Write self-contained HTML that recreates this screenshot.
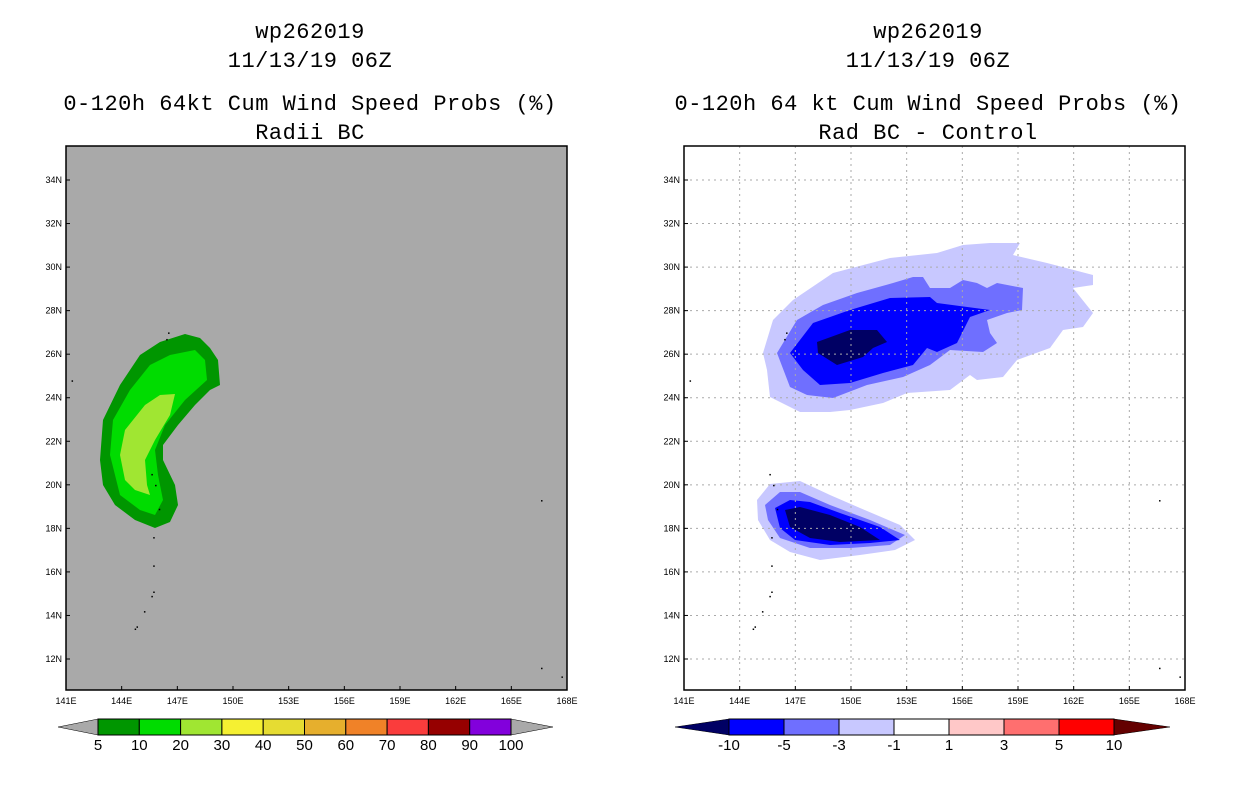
<!DOCTYPE html>
<html><head><meta charset="utf-8"><style>
body{margin:0;background:#fff;}
svg text{font-family:"Liberation Sans",sans-serif;}
svg .ttl{font-family:"Liberation Mono",monospace;}
</style></head><body>
<svg id="s" width="1236" height="800" xmlns="http://www.w3.org/2000/svg">
<g class="ttl" font-size="22" letter-spacing="0.5" text-anchor="middle" fill="#000">
<text class="ttl" x="310" y="38">wp262019</text>
<text class="ttl" x="310" y="67">11/13/19 06Z</text>
<text class="ttl" x="310" y="110">0-120h 64kt Cum Wind Speed Probs (%)</text>
<text class="ttl" x="310" y="139">Radii BC</text>
<text class="ttl" x="928" y="38">wp262019</text>
<text class="ttl" x="928" y="67">11/13/19 06Z</text>
<text class="ttl" x="928" y="110">0-120h 64 kt Cum Wind Speed Probs (%)</text>
<text class="ttl" x="928" y="139">Rad BC - Control</text>
</g>
<g id="L"></g><g id="R"></g><g id="CB"></g>
</svg>
<script>
const latTicks=[34,32,30,28,26,24,22,20,18,16,14,12];
const lonTicks=[141,144,147,150,153,156,159,162,165,168];
const leftLevels=["5","10","20","30","40","50","60","70","80","90","100"];
const leftColors=["#009600","#00dc00","#a0e632","#f5f032","#e6dc32","#e6af2d","#f08228","#fa3c3c","#960000","#8200dc"];
const rightLevels=["-10","-5","-3","-1","1","3","5","10"];
const rightColors=["#0000ff","#6f6fff","#c8c8ff","#ffffff","#ffc8c8","#ff6f6f","#ff0000"];
// contour outlines (frame-relative pixel vertices)
const leftOuter=[[34,314],[37,274],[54,239],[74,209],[94,196],[119,188],[134,192],[144,202],[152,214],[154,239],[144,244],[129,259],[112,279],[97,299],[97,314],[109,339],[112,359],[104,376],[89,382],[69,374],[49,359],[37,339]];
const leftMid=[[44,309],[47,274],[64,244],[84,219],[104,209],[129,204],[139,214],[141,234],[119,254],[99,279],[89,304],[92,329],[97,354],[89,369],[74,364],[54,349]];
const leftIn=[[54,309],[59,284],[79,259],[94,249],[109,248],[104,269],[89,294],[79,314],[81,339],[84,349],[69,344],[59,334]];
const rUpper3=[[79,207],[89,174],[109,154],[149,127],[206,112],[253,107],[279,99],[306,97],[336,97],[329,109],[363,117],[409,129],[409,139],[389,142],[409,167],[399,181],[379,184],[366,202],[333,214],[319,231],[293,234],[286,229],[266,244],[223,247],[199,257],[166,264],[146,266],[116,266],[86,251],[83,224]];
const rUpper2=[[93,207],[113,174],[139,159],[173,147],[209,137],[229,131],[239,131],[246,142],[266,142],[279,134],[293,137],[303,142],[313,137],[339,142],[338,164],[323,167],[303,174],[306,187],[313,197],[299,206],[266,204],[246,219],[219,231],[183,239],[149,252],[123,249],[106,241]];
const rUpper1=[[106,207],[129,177],[166,164],[206,152],[246,151],[253,157],[306,164],[286,171],[273,197],[253,206],[243,202],[229,219],[199,227],[166,237],[136,239],[119,224]];
const rUpper0=[[133,196],[166,184],[193,184],[203,196],[189,202],[179,211],[153,219],[134,207]];
const rLow3=[[73,354],[86,338],[116,335],[146,349],[176,362],[216,379],[231,394],[211,404],[176,409],[136,414],[106,406],[86,394],[74,374]];
const rLow2=[[81,359],[96,346],[116,346],[146,359],[186,374],[221,389],[206,399],[166,402],[126,402],[96,392],[84,374]];
const rLow1=[[91,362],[106,354],[126,356],[156,367],[196,381],[216,394],[186,397],[146,399],[111,394],[96,382]];
const rLow0=[[101,364],[116,361],[146,369],[176,381],[196,394],[156,396],[126,392],[106,381]];
const islands=[[146.5,27.0],[146.4,26.7],[141.3,24.8],[145.6,20.5],[145.8,20.0],[146.0,18.9],[145.7,17.6],[145.7,16.3],[145.7,15.1],[145.6,14.9],[145.2,14.2],[144.7,13.4],[144.8,13.5],[166.6,19.3],[166.6,11.6],[167.7,11.2]];
const NS="http://www.w3.org/2000/svg";
const W=501,H=544,T=146;
const lonMin=141,lonMax=168,latTop=34+34/21.77,latBot=12-31/21.77;
function el(p,t,a){const e=document.createElementNS(NS,t);for(const k in a)e.setAttribute(k,a[k]);p.appendChild(e);return e;}
function xS(x0,lon){return x0+(lon-lonMin)/(lonMax-lonMin)*W;}
function yS(lat){return T+(latTop-lat)/(latTop-latBot)*H;}
function poly(g,x0,pts,fill,name){const p=el(g,'polygon',{points:pts.map(q=>(x0+q[0])+','+(T+q[1])).join(' '),fill:fill});

}
function panel(g,x0,bg,grid,polys){
 const r=el(g,'rect',{x:x0,y:T,width:W,height:H,fill:bg});
 
 
 polys.forEach(p=>poly(g,x0,p[0],p[1],p[2]));
 if(grid){
  latTicks.forEach(l=>{const ln=el(g,'line',{x1:x0,x2:x0+W,y1:yS(l),y2:yS(l),stroke:'#aaa','stroke-dasharray':'2,4'});
  
  });
  lonTicks.slice(1,-1).forEach(l=>{const ln=el(g,'line',{x1:xS(x0,l),x2:xS(x0,l),y1:T,y2:T+H,stroke:'#aaa','stroke-dasharray':'2,4'});
  
  });
 }
 islands.forEach(p=>{const c=el(g,'rect',{x:xS(x0,p[0]),y:yS(p[1]),width:1.5,height:1.5,fill:'#000'});
 
 });
 const f=el(g,'rect',{x:x0,y:T,width:W,height:H,fill:'none',stroke:'#000','stroke-width':1.5});
 
 
 latTicks.forEach(l=>{const t=el(g,'text',{x:x0-4,y:yS(l)+3,'font-size':9,'text-anchor':'end'});t.textContent=l+'N';
 
 
 el(g,'line',{x1:x0,x2:x0+4,y1:yS(l),y2:yS(l),stroke:'#000'});});
 lonTicks.forEach(l=>{const t=el(g,'text',{x:xS(x0,l),y:T+H+14,'font-size':9,'text-anchor':'middle'});t.textContent=l+'E';
 
 
 el(g,'line',{x1:xS(x0,l),x2:xS(x0,l),y1:T+H,y2:T+H-4,stroke:'#000'});});
}
panel(document.getElementById('L'),66,'#a9a9a9',false,[[leftOuter,'#009600','contour-5'],[leftMid,'#00dc00','contour-10'],[leftIn,'#a0e632','contour-20']]);
panel(document.getElementById('R'),684,'#fff',true,[[rUpper3,'#c8c8ff','north-contour-m1'],[rUpper2,'#6f6fff','north-contour-m3'],[rUpper1,'#0000ff','north-contour-m5'],[rUpper0,'#000064','north-contour-m10'],[rLow3,'#c8c8ff','south-contour-m1'],[rLow2,'#6f6fff','south-contour-m3'],[rLow1,'#0000ff','south-contour-m5'],[rLow0,'#000064','south-contour-m10']]);
// colorbars
const cb=document.getElementById('CB');
function colorbar(x0,x1,tri0,tri1,colors,labels,lc,rc,name){
 const y=719,h=16,n=colors.length,bw=(x1-x0)/n;
 const a=el(cb,'polygon',{points:`${x0},${y} ${x0},${y+h} ${tri0},${y+h/2}`,fill:lc,stroke:'#000','stroke-width':0.5});
 
 
 const b=el(cb,'polygon',{points:`${x1},${y} ${x1},${y+h} ${tri1},${y+h/2}`,fill:rc,stroke:'#000','stroke-width':0.5});
 
 
 colors.forEach((c,i)=>{const r=el(cb,'rect',{x:x0+i*bw,y:y,width:bw,height:h,fill:c,stroke:'#000','stroke-width':1});
 
 });
 labels.forEach((l,i)=>{const t=el(cb,'text',{x:x0+i*bw,y:y+h+15,'font-size':15,'text-anchor':'middle'});t.textContent=l;
 
 });
}
colorbar(98,511,58,553,leftColors,leftLevels,'#a9a9a9','#a9a9a9','left-colorbar');
colorbar(729,1114,675,1170,rightColors,rightLevels,'#000064','#640000','right-colorbar');
</script>
</body></html>
